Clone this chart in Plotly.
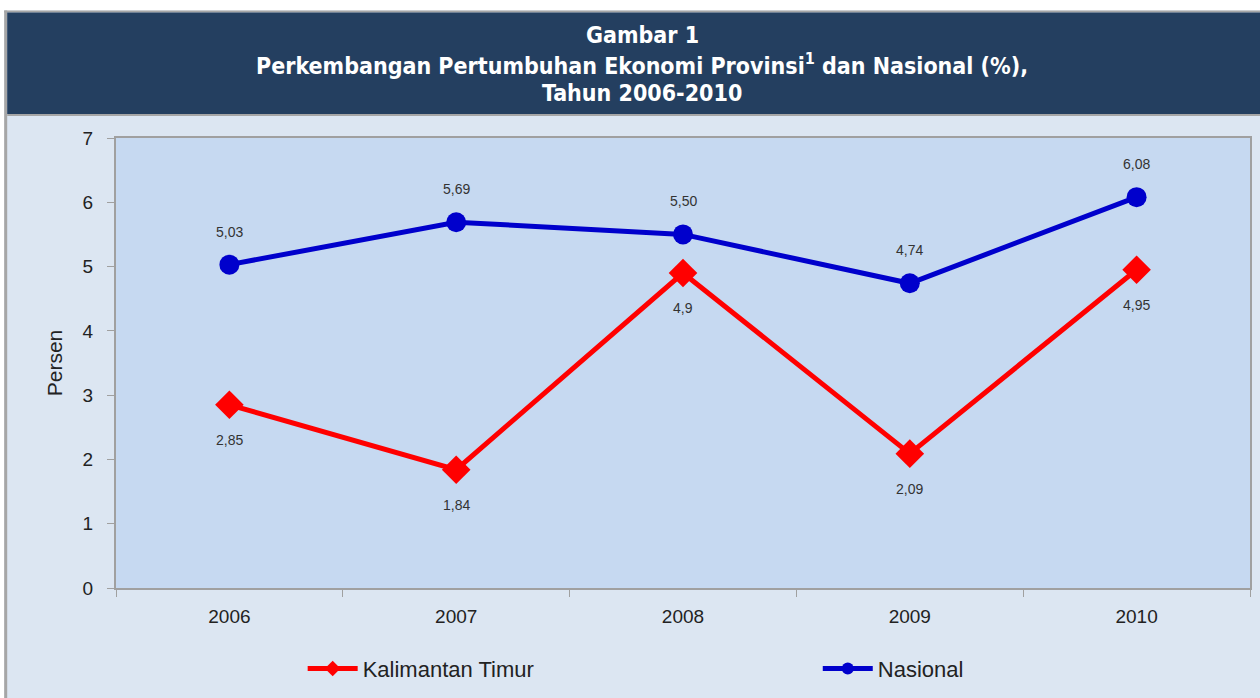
import plotly.graph_objects as go

years = ["2006", "2007", "2008", "2009", "2010"]
kaltim = [2.85, 1.84, 4.9, 2.09, 4.95]
kaltim_labels = ["2,85", "1,84", "4,9", "2,09", "4,95"]
nasional = [5.03, 5.69, 5.50, 4.74, 6.08]
nasional_labels = ["5,03", "5,69", "5,50", "4,74", "6,08"]
y_ticks = [0, 1, 2, 3, 4, 5, 6, 7]

W, H = 1260, 698
L, R, T, B = 116, 8, 138, 108
PW, PH = W - L - R, H - T - B

def px(x):
    return (x - L) / PW

def py(y):
    return (H - B - y) / PH

fig = go.Figure()
fig.add_trace(go.Scatter(
    x=years, y=kaltim, name="Kalimantan Timur", mode="lines+markers",
    line=dict(color="#FF0000", width=5),
    marker=dict(symbol="diamond", size=22, color="#FF0000"),
    legend="legend",
))
fig.add_trace(go.Scatter(
    x=years, y=nasional, name="Nasional", mode="lines+markers",
    line=dict(color="#0000CC", width=5),
    marker=dict(symbol="circle", size=20, color="#0000CC"),
    legend="legend2",
))

label_font = dict(family="Liberation Sans, Arial", size=14, color="#333333")
annotations = []
for i, (yv, t) in enumerate(zip(kaltim, kaltim_labels)):
    annotations.append(dict(x=i, y=yv, xref="x", yref="y", text=t, showarrow=False,
                            yshift=-35, font=label_font))
for i, (yv, t) in enumerate(zip(nasional, nasional_labels)):
    annotations.append(dict(x=i, y=yv, xref="x", yref="y", text=t, showarrow=False,
                            yshift=33, font=label_font))

title_font = dict(family="DejaVu Sans Condensed, DejaVu Sans", size=23, color="white")
title_lines = [("<b>Gambar 1</b>", 35),
               ("<b>Perkembangan Pertumbuhan Ekonomi Provinsi<sup>1</sup> dan Nasional (%),</b>", 64),
               ("<b>Tahun 2006-2010</b>", 93)]
for txt, ypix in title_lines:
    annotations.append(dict(xref="paper", yref="paper", x=px(643), y=py(ypix), text=txt,
                            showarrow=False, xanchor="center", yanchor="middle", font=title_font))

shapes = [
    dict(type="rect", xref="paper", yref="paper", x0=px(-10), x1=px(1270), y0=py(10), y1=py(-10),
         fillcolor="white", line_width=0, layer="below"),
    dict(type="rect", xref="paper", yref="paper", x0=px(-10), x1=px(4), y0=py(710), y1=py(-10),
         fillcolor="white", line_width=0, layer="below"),
    dict(type="rect", xref="paper", yref="paper", x0=px(4), x1=px(1270), y0=py(12), y1=py(10),
         fillcolor="#A6A6A6", line_width=0, layer="below"),
    dict(type="rect", xref="paper", yref="paper", x0=px(4), x1=px(7), y0=py(710), y1=py(10),
         fillcolor="#A6A6A6", line_width=0, layer="below"),
    dict(type="rect", xref="paper", yref="paper", x0=px(7), x1=px(1270), y0=py(114), y1=py(12),
         fillcolor="#243F60", line_width=0, layer="below"),
    dict(type="rect", xref="paper", yref="paper", x0=px(7), x1=px(1270), y0=py(116), y1=py(114),
         fillcolor="#A6A6A6", line_width=0, layer="below"),
]

legend_common = dict(orientation="h", yanchor="middle", xanchor="left",
                     font=dict(size=22, color="#222222"), bgcolor="rgba(0,0,0,0)",
                     itemsizing="constant", itemwidth=50)

fig.update_layout(
    width=W, height=H,
    margin=dict(l=L, r=R, t=T, b=B, pad=0),
    paper_bgcolor="#DCE6F2",
    plot_bgcolor="#C6D9F1",
    font=dict(family="Liberation Sans, Arial", color="#222222"),
    showlegend=True,
    legend=dict(x=px(303), y=py(671), **legend_common),
    legend2=dict(x=px(819), y=py(671), **legend_common),
    annotations=annotations,
    shapes=shapes,
    xaxis=dict(type="category", tickson="boundaries", ticks="outside", ticklen=7,
               tickcolor="#A0A0A0", showline=True, linecolor="#A0A0A0", linewidth=2,
               mirror=True, showgrid=False, range=[-0.5, 4.5],
               tickfont=dict(size=19, color="#222222"), ticklabelstandoff=10),
    yaxis=dict(range=[0, 7], tickvals=y_ticks, ticks="outside", ticklen=7,
               tickcolor="#A0A0A0", showline=True, linecolor="#A0A0A0", linewidth=2,
               mirror=True, showgrid=False, zeroline=False,
               tickfont=dict(size=19, color="#222222"), ticklabelstandoff=10,
               title=dict(text="Persen", font=dict(size=21, color="#222222"), standoff=14)),
)

fig.write_html("out.html", config={"displayModeBar": False})
with open("out.html", "r", encoding="utf-8") as f:
    html = f.read()
html = html.replace("<head>", "<head><style>html,body{margin:0;padding:0;overflow:hidden;}</style>", 1)
with open("out.html", "w", encoding="utf-8") as f:
    f.write(html)
